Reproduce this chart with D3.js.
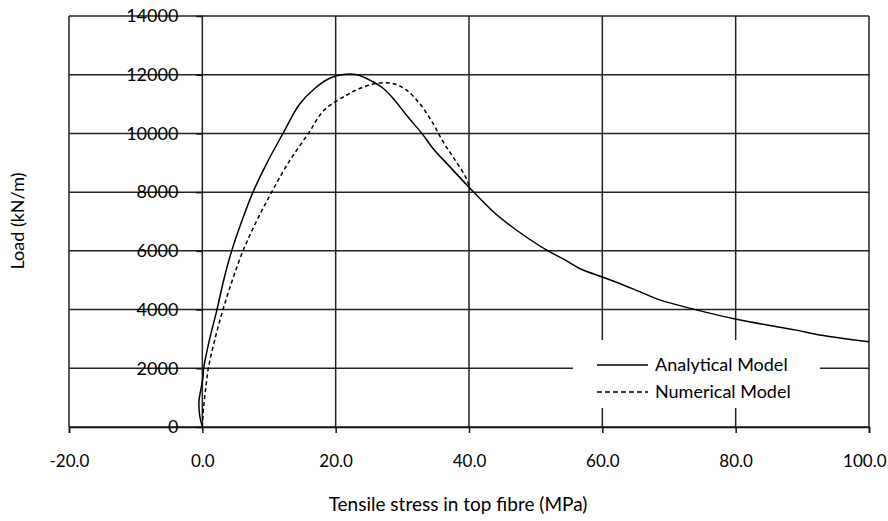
<!DOCTYPE html>
<html>
<head>
<meta charset="utf-8">
<script src="https://cdn.jsdelivr.net/npm/d3@7"></script>
<style>
  body { margin: 0; background: #fff; }
  svg text { font-family: Lato, "Open Sans", sans-serif; fill: #000; }
  .grid line { stroke: #222; stroke-width: 1.5; }
  .axis path, .axis line { stroke: #111; stroke-width: 1.5; }
</style>
</head>
<body>
<svg id="chart" width="888" height="521"></svg>
<script>
// stress (MPa) vs load (kN/m)
const analyticalX = [0, -0.4, -0.5, -0.2, 0.1, 0.2, 1.1, 2.2, 3.2, 4.4, 5.9, 7.6, 9.7, 12.1, 14.6, 16.9, 19.1, 20.9, 23.2, 25.6, 27.1, 28.6, 30.6, 33.1, 34.6, 36.9, 39.9, 43.9, 47.1, 51.6, 54.4, 56.6, 60.1, 62.6, 65.6, 68.6, 74.1, 80.1, 86.6, 89.1, 92.6, 100];
const analyticalY = [0, 400, 900, 1300, 1700, 2000, 3000, 4000, 5000, 6000, 7000, 8000, 9000, 10000, 11000, 11540, 11880, 12000, 12000, 11760, 11540, 11200, 10630, 9950, 9490, 8920, 8190, 7280, 6710, 6030, 5690, 5400, 5100, 4890, 4610, 4330, 3990, 3670, 3400, 3300, 3130, 2900];

const numericalX = [0, 0.2, 0.5, 0.9, 1.9, 3.1, 4.5, 6.1, 8.1, 10.4, 12.9, 15.9, 18.3, 21.6, 23.6, 26.1, 28.6, 30.6, 32.6, 34.6, 36.1, 37.6, 39.6, 40.2];
const numericalY = [0, 700, 1300, 2000, 3000, 4000, 5000, 6000, 7000, 8000, 9000, 10000, 10800, 11300, 11530, 11700, 11700, 11480, 11020, 10340, 9720, 9200, 8470, 8070];

const xTicks = [-20, 0, 20, 40, 60, 80, 100];
const yTicks = [0, 2000, 4000, 6000, 8000, 10000, 12000, 14000];
const seriesNames = ["Analytical Model", "Numerical Model"];

const svg = d3.select("#chart");

const x = d3.scaleLinear().domain([-20, 100]).range([69, 869]);
const y = d3.scaleLinear().domain([0, 14000]).range([427, 16]);

// gridlines
const grid = svg.append("g").attr("class", "grid");
grid.selectAll(".h").data(yTicks).enter().append("line")
  .attr("x1", x(-20)).attr("x2", x(100))
  .attr("y1", d => y(d)).attr("y2", d => y(d));
grid.selectAll(".v").data(xTicks).enter().append("line")
  .attr("y1", y(0)).attr("y2", y(14000))
  .attr("x1", d => x(d)).attr("x2", d => x(d));

// axes crossing at 0,0
const yAxis = svg.append("g").attr("class", "axis")
  .attr("transform", `translate(${x(0)},0)`)
  .call(d3.axisLeft(y).tickValues(yTicks).tickSize(6).tickPadding(18).tickFormat(d3.format("d")));
yAxis.selectAll("text").style("font-size", "18px");
yAxis.select(".domain").remove();

const fmtX = d => d3.format(".1f")(d).replace("\u2212", "-");
const xAxis = svg.append("g").attr("class", "axis")
  .attr("transform", `translate(0,${y(0)})`)
  .call(d3.axisBottom(x).tickValues(xTicks).tickSize(6).tickPadding(22).tickFormat(fmtX));
xAxis.selectAll("text").style("font-size", "17px");
// keep the last label inside the page, like the original
xAxis.selectAll(".tick").filter(d => d === 100).select("text")
  .attr("text-anchor", "end").attr("x", 17);

// axis titles
svg.append("text")
  .attr("x", 458).attr("y", 511)
  .attr("text-anchor", "middle")
  .style("font-size", "19px")
  .text("Tensile stress in top fibre (MPa)");

svg.append("text")
  .attr("transform", "translate(24,221) rotate(-90)")
  .attr("text-anchor", "middle")
  .style("font-size", "18px")
  .text("Load (kN/m)");

// curves
const line = d3.line()
  .x(d => x(d[0]))
  .y(d => y(d[1]))
  .curve(d3.curveCatmullRom.alpha(0.5));

const analytical = analyticalX.map((v, i) => [v, analyticalY[i]]);
const numerical = numericalX.map((v, i) => [v, numericalY[i]]);

svg.append("path").datum(numerical)
  .attr("fill", "none").attr("stroke", "#000").attr("stroke-width", 1.5)
  .attr("stroke-dasharray", "4,3")
  .attr("d", line);

svg.append("path").datum(analytical)
  .attr("fill", "none").attr("stroke", "#000").attr("stroke-width", 1.5)
  .attr("d", line);

// legend
const legend = svg.append("g");
legend.append("rect")
  .attr("x", 573).attr("y", 340).attr("width", 247).attr("height", 68)
  .attr("fill", "#fff");

const items = legend.selectAll(".item").data(seriesNames).enter().append("g")
  .attr("transform", (d, i) => `translate(597,${365 + i * 27})`);
items.append("line")
  .attr("x1", 0).attr("x2", 51)
  .attr("stroke", "#000").attr("stroke-width", 1.5)
  .attr("stroke-dasharray", (d, i) => i === 1 ? "5,3" : null);
items.append("text")
  .attr("x", 58).attr("dy", "0.35em")
  .style("font-size", "18px")
  .text(d => d);
</script>
</body>
</html>
